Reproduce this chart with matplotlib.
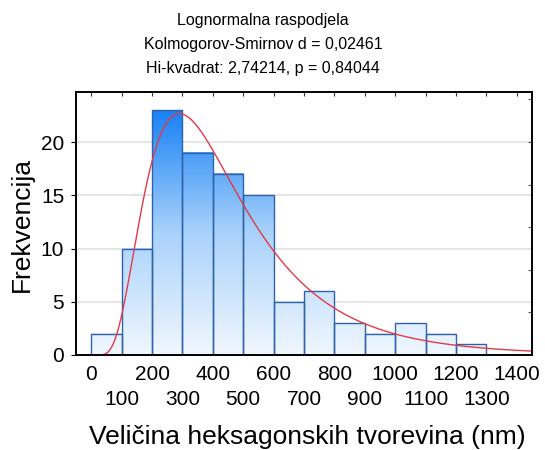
import numpy as np
import matplotlib.pyplot as plt
from matplotlib.colors import LinearSegmentedColormap

plt.rcParams['font.family'] = ['Liberation Sans', 'DejaVu Sans']

# histogram: left edge of each bin (nm) and counts per bin
bin_starts = [0, 100, 200, 300, 400, 500, 600, 700, 800, 900, 1000, 1100, 1200]
counts = [2, 10, 23, 19, 17, 15, 5, 6, 3, 2, 3, 2, 1]
bin_width = 100

# fitted lognormal parameters (log-scale mean and sigma)
ln_mu = 5.984
ln_sigma = 0.56
n_total = sum(counts)

title_lines = ['Lognormalna raspodjela',
               'Kolmogorov-Smirnov d = 0,02461',
               'Hi-kvadrat: 2,74214, p = 0,84044']

major_ticks = [0, 200, 400, 600, 800, 1000, 1200, 1400]
minor_ticks = [100, 300, 500, 700, 900, 1100, 1300]

fig = plt.figure(figsize=(5.45, 4.5), dpi=100)
ax = fig.add_axes([76 / 545, 95 / 450, 456 / 545, 263 / 450])

# horizontal grid
for gy in [5, 10, 15, 20]:
    ax.axhline(gy, color='#e0e0e0', lw=1.2, zorder=0)

# bars with vertical gradient (light at 0, deep blue at the tallest bar)
cmap = LinearSegmentedColormap.from_list('bluegrad', ['#f0f7ff', '#a9d2fb', '#1a82f5'])
vmax = max(counts)
for x0, h in zip(bin_starts, counts):
    grad = np.linspace(0, h, 100).reshape(-1, 1)
    ax.imshow(grad, extent=[x0, x0 + bin_width, 0, h], origin='lower',
              aspect='auto', cmap=cmap, vmin=0, vmax=vmax, zorder=1)
ax.bar(bin_starts, counts, width=bin_width, align='edge', facecolor='none',
       edgecolor='#2f62ab', linewidth=1.0, zorder=2)

# lognormal fit scaled to counts
xs = np.linspace(1, 1450, 600)
pdf = np.exp(-(np.log(xs) - ln_mu) ** 2 / (2 * ln_sigma ** 2)) / (xs * ln_sigma * np.sqrt(2 * np.pi))
ax.plot(xs, pdf * n_total * bin_width, color='#e23a46', lw=1.0, zorder=3)

ax.set_xlim(-50, 1450)
ax.set_ylim(0, 24.7)

# ticks: labels on bottom in two rows, small inward marks on top
ax.set_xticks(major_ticks)
ax.set_xticks(minor_ticks, minor=True)
ax.set_xticklabels([str(t) for t in major_ticks], fontsize=15)
ax.set_xticklabels([str(t) for t in minor_ticks], minor=True, fontsize=15)
ax.tick_params(axis='x', which='both', bottom=False, top=True, direction='in',
               length=3, width=0.8, color='#333333')
ax.tick_params(axis='x', which='major', pad=7)
ax.tick_params(axis='x', which='minor', pad=25)

ax.set_yticks([0, 5, 10, 15, 20])
ax.tick_params(axis='y', left=False, labelsize=15, pad=5)

ax2 = ax.twinx()
ax2.set_ylim(0, 24.7)
ax2.set_yticks([4, 8, 12, 16, 20, 24])
ax2.tick_params(axis='y', direction='in', length=3, width=0.8, labelright=False, color='#555555')

for a in (ax, ax2):
    for sp in a.spines.values():
        sp.set_color('black')
        sp.set_linewidth(1.2)

fig.text(22 / 545, 1 - 225 / 450, 'Frekvencija', rotation=90, fontsize=19,
         ha='center', va='center')
fig.text(307 / 545, 1 - 437 / 450, 'Veličina heksagonskih tvorevina (nm)', fontsize=19,
         ha='center', va='center')

for i, line in enumerate(title_lines):
    fig.text(263 / 545, 1 - (21 + 23.5 * i) / 450, line, fontsize=11.5,
             ha='center', va='center')

fig.savefig('out.png', dpi=100, facecolor='white')
